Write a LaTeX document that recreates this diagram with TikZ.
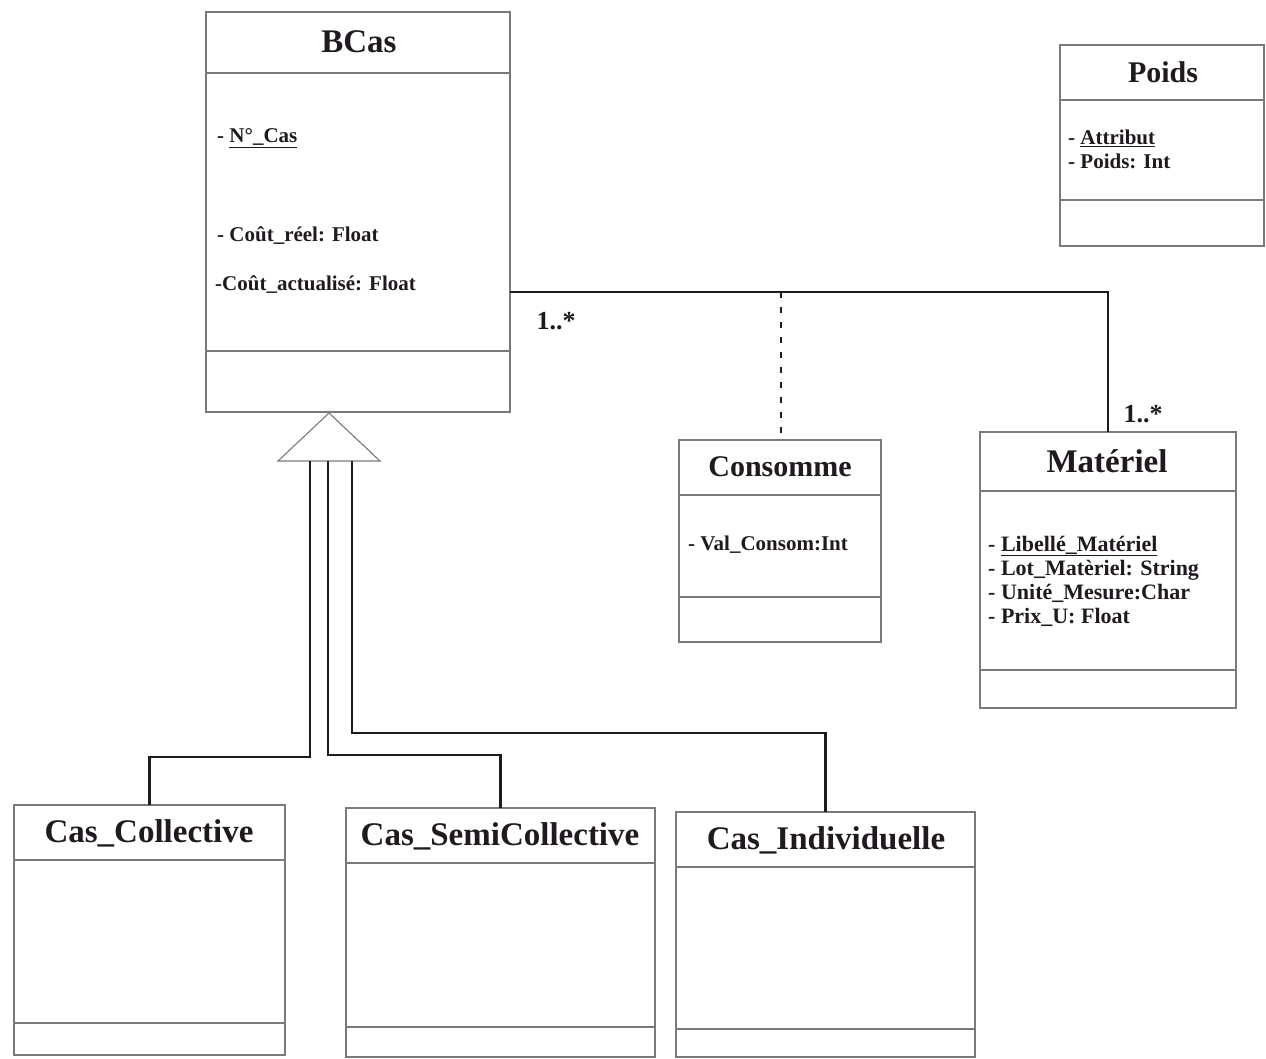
\documentclass[tikz,border=0pt]{standalone}
\usepackage{fontspec}
\setmainfont{Liberation Serif}
\usetikzlibrary{calc}
\definecolor{ink}{RGB}{32,26,32}
\definecolor{frame}{RGB}{125,120,125}

% class box: name, left, top, right, bottom, first separator, second separator
\newcommand\umlclass[7]{%
  \node[classbox, minimum width={(#4-#2)*1pt}, minimum height={(#5-#3)*1pt}]
    (#1) at ({(#2+#4)/2},{(#3+#5)/2}) {};
  \draw[sep] (#1.west |- 0,#6) -- (#1.east |- 0,#6);
  \draw[sep] (#1.west |- 0,#7) -- (#1.east |- 0,#7);
}

\begin{document}
\begin{tikzpicture}[x=1pt,y=-1pt,
  classbox/.style={draw=frame, line width=1.1pt, inner sep=0pt, outer sep=0pt},
  sep/.style={draw=frame, line width=1.1pt},
  title/.style={font=\fontsize{33}{36}\selectfont\bfseries, text=ink, inner sep=0pt},
  smalltitle/.style={title, font=\fontsize{30}{34}\selectfont\bfseries},
  attr/.style={font=\fontsize{21}{24}\selectfont\bfseries, text=ink, anchor=west, inner sep=0pt, align=left},
  link/.style={draw=ink, line width=2.4pt},
  dep/.style={draw=ink, line width=2.2pt, dash pattern=on 6pt off 9pt},
  mult/.style={font=\fontsize{26}{28}\selectfont\bfseries, text=ink, inner sep=0pt}]
\useasboundingbox (0,0) rectangle (1266,1058);

% classes
\umlclass{bcas}{206}{12}{510}{412}{73}{351}
\umlclass{poids}{1060}{45}{1264}{246}{100}{200}
\umlclass{consomme}{679}{440}{881}{642}{495}{597}
\umlclass{materiel}{980}{432}{1236}{708}{491}{670}
\umlclass{collective}{14}{805}{285}{1055}{860}{1023}
\umlclass{semi}{346}{808}{655}{1057}{863}{1027}
\umlclass{indiv}{676}{812}{975}{1057}{867}{1029}

% class names
\node[title] (bcas-title) at (359,42) {BCas};
\node[smalltitle] (poids-title) at (1163,72) {Poids};
\node[smalltitle] (consomme-title) at (780,467) {Consomme};
\node[title] (materiel-title) at (1107,461) {Matériel};
\node[title] (collective-title) at (149,833) {Cas\_Collective};
\node[title] (semi-title) at (500,836) {Cas\_SemiCollective};
\node[title] (indiv-title) at (826,840) {Cas\_Individuelle};

% attributes
\node[attr] (bcas-a1) at (217,138) {- \underline{N°\_Cas}};
\node[attr] (bcas-a2) at (217,236) {- Coût\_réel: Float};
\node[attr] (bcas-a3) at (215,285) {-Coût\_actualisé: Float};
\node[attr] (poids-a) at (1068,149) {- \underline{Attribut}\\- Poids: Int};
\node[attr] (consomme-a) at (688,545) {- Val\_Consom:Int};
\node[attr, font=\fontsize{22}{24}\selectfont\bfseries] (materiel-a) at (988,581) {- \underline{Libellé\_Matériel}\\- Lot\_Matèriel: String\\- Unité\_Mesure:Char\\- Prix\_U: Float};

% association BCas -- Materiel, with association class Consomme
\coordinate (assoc-start) at ($(bcas.north east)+(0,280)$);
\coordinate (assoc-mid) at (781,292);
\draw[link] (assoc-start) -| (materiel.north);
\draw[dep] (assoc-mid) -- (assoc-mid |- consomme.north);
\node[mult] (mult-bcas) at (556,321) {1..*};
\node[mult] (mult-materiel) at (1143,414) {1..*};

% generalization
\coordinate (apex) at (329,413);
\coordinate (base-l) at (278,461);
\coordinate (base-r) at (380,461);
\draw[frame, line width=1.1pt, fill=white] (apex) -- (base-l) -- (base-r) -- cycle;
\coordinate (g1) at (310,461);
\coordinate (g2) at (328,461);
\coordinate (g3) at (352,461);
\draw[link] (g1) |- ($(collective.north)+(0,-48)$) -- (collective.north);
\draw[link] (g2) |- ($(semi.north)+(0,-53)$) -- (semi.north);
\draw[link] (g3) |- ($(indiv.north)+(0,-79)$) -- (indiv.north);
\end{tikzpicture}
\end{document}
